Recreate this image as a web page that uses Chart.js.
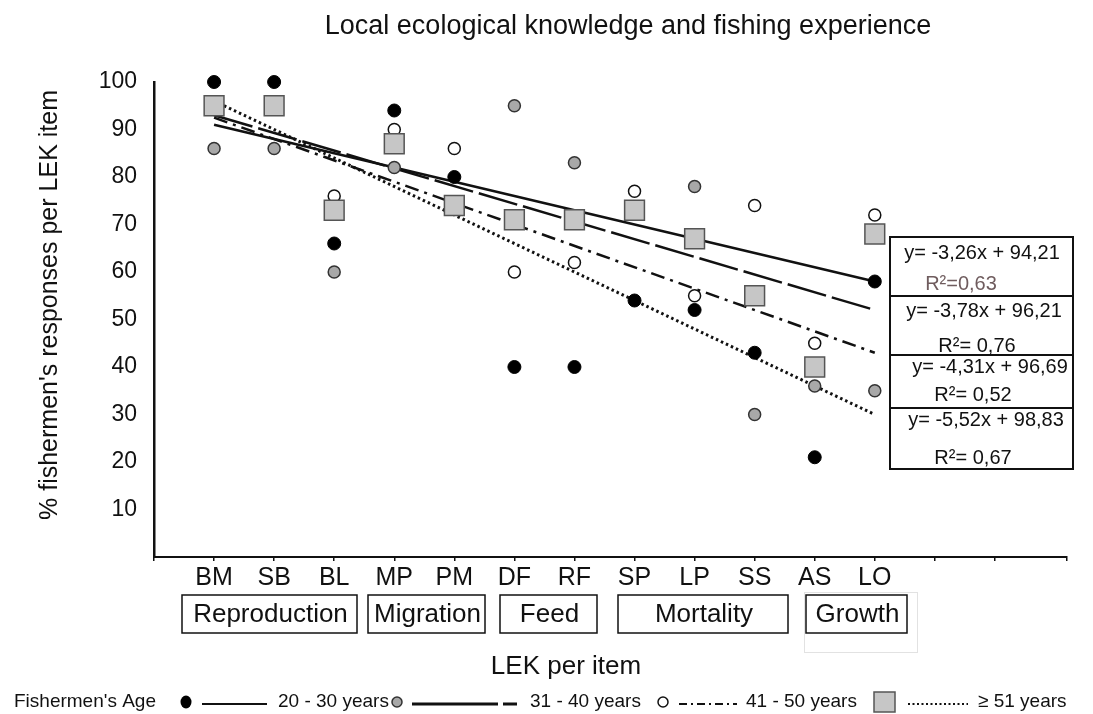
<!DOCTYPE html>
<html>
<head>
<meta charset="utf-8">
<title>Local ecological knowledge and fishing experience</title>
<script src="https://cdn.jsdelivr.net/npm/chart.js@4.4.1/dist/chart.umd.min.js"></script>
<style>
    body { margin: 0; background: #fff; }
    #wrap { width: 1093px; height: 714px; }
</style>
</head>
<body>
<div id="wrap"><canvas id="lekChart" width="1093" height="714"></canvas></div>
<script>
const categories = ['BM', 'SB', 'BL', 'MP', 'PM', 'DF', 'RF', 'SP', 'LP', 'SS', 'AS', 'LO'];
const itemIndex = [1, 2, 3, 4, 5, 6, 7, 8, 9, 10, 11, 12];

const age20to30 = [100, 100, 66, 94, 80, 40, 40, 54, 52, 43, 21, 58];
const age31to40 = [86, 86, 60, 82, 74, 95, 83, 73, 78, 30, 36, 35];
const age41to50 = [95, 95, 76, 90, 86, 60, 62, 77, 55, 74, 45, 72];
const age51plus = [95, 95, 73, 87, 74, 71, 71, 73, 67, 55, 40, 68];

// trend lines, value at first item and at last item
const trendStart = [91, 93, 92.5, 96];
const trendEnd = [58, 52, 43, 30];

const yTicks = [10, 20, 30, 40, 50, 60, 70, 80, 90, 100];
const groupNames = ['Reproduction', 'Migration', 'Feed', 'Mortality', 'Growth'];
const equations = ['y= -3,26x + 94,21', 'y= -3,78x + 96,21', 'y= -4,31x + 96,69', 'y= -5,52x + 98,83'];
const rSquared = ['R\u00B2=0,63', 'R\u00B2= 0,76', 'R\u00B2= 0,52', 'R\u00B2= 0,67'];
const ageLabels = ['20 - 30 years', '31 - 40 years', '41 - 50 years', '\u2265 51 years'];

const FONT = '"Liberation Sans", Arial, Helvetica, sans-serif';
const INK = '#111';

function toPoints(values) {
    return values.map((v, i) => ({ x: itemIndex[i], y: v }));
}
function trendLine(k) {
    return [
        { x: itemIndex[0], y: trendStart[k] },
        { x: itemIndex[itemIndex.length - 1], y: trendEnd[k] }
    ];
}

// Extra drawing: title, axis titles, group boxes, equations, legend ..................
const decorations = {
    id: 'decorations',
    afterDraw(chart) {
        const ctx = chart.ctx;
        ctx.save();
        ctx.fillStyle = INK;
        ctx.textBaseline = 'middle';

        ctx.textAlign = 'center';
        ctx.font = '27px ' + FONT;
        ctx.fillText('Local ecological knowledge and fishing experience', 628, 27);
        ctx.font = '26px ' + FONT;
        ctx.fillText('LEK per item', 566, 667);

        ctx.save();
        ctx.translate(50, 305);
        ctx.rotate(-Math.PI / 2);
        ctx.font = '25px ' + FONT;
        ctx.fillText("% fishermen's responses per LEK item", 0, 0);
        ctx.restore();

        // item groups under the axis
        const boxes = [[182, 357], [368, 485], [500, 597], [618, 788], [806, 907]];
        ctx.strokeStyle = '#e2e2e2';
        ctx.lineWidth = 1;
        ctx.strokeRect(804.5, 592.5, 113, 60);
        ctx.strokeStyle = INK;
        ctx.lineWidth = 1.5;
        ctx.font = '26px ' + FONT;
        boxes.forEach((b, i) => {
            ctx.fillStyle = '#fff';
            ctx.fillRect(b[0], 595, b[1] - b[0], 38);
            ctx.strokeRect(b[0], 595, b[1] - b[0], 38);
            ctx.fillStyle = INK;
            ctx.fillText(groupNames[i], (b[0] + b[1]) / 2 + 1, 615);
        });

        // regression equations
        const rows = [237, 296, 355, 408, 469];
        ctx.lineWidth = 2;
        ctx.fillStyle = '#fff';
        ctx.fillRect(890, 237, 183, 232);
        for (let i = 0; i < 4; i++) {
            ctx.strokeRect(890, rows[i], 183, rows[i + 1] - rows[i]);
        }
        ctx.font = '20px ' + FONT;
        const eqY = [253, 311, 367, 420];
        const eqX = [982, 984, 990, 986];
        const r2Y = [284, 346, 395, 458];
        const r2X = [961, 977, 973, 973];
        for (let i = 0; i < 4; i++) {
            ctx.fillStyle = INK;
            ctx.fillText(equations[i], eqX[i], eqY[i]);
            ctx.fillStyle = i === 0 ? '#6f5c5e' : INK;
            ctx.fillText(rSquared[i], r2X[i], r2Y[i]);
        }

        // legend row
        const ly = 702;
        ctx.font = '19px ' + FONT;
        ctx.textAlign = 'left';
        ctx.fillStyle = INK;
        ctx.fillText("Fishermen's Age", 14, ly);
        ctx.fillText(ageLabels[0], 278, ly);
        ctx.fillText(ageLabels[1], 530, ly);
        ctx.fillText(ageLabels[2], 746, ly);
        ctx.fillText(ageLabels[3], 978, ly);

        ctx.lineWidth = 1.5;
        ctx.beginPath();
        ctx.ellipse(186, ly, 5.5, 6.5, 0, 0, Math.PI * 2);
        ctx.fillStyle = '#000';
        ctx.fill();

        ctx.beginPath();
        ctx.arc(397, ly, 5, 0, Math.PI * 2);
        ctx.fillStyle = '#a8a8a8';
        ctx.fill();
        ctx.strokeStyle = '#333';
        ctx.stroke();

        ctx.beginPath();
        ctx.arc(663, ly, 5, 0, Math.PI * 2);
        ctx.fillStyle = '#fff';
        ctx.fill();
        ctx.strokeStyle = INK;
        ctx.stroke();

        ctx.fillStyle = '#c6c6c6';
        ctx.fillRect(874, ly - 10, 21, 20);
        ctx.strokeStyle = '#555';
        ctx.strokeRect(874, ly - 10, 21, 20);

        const samples = [
            [202, 267, [], 2],
            [412, 517, [86, 5], 3],
            [679, 737, [8, 4, 2, 4], 2],
            [908, 968, [2, 2.5], 2]
        ];
        ctx.strokeStyle = INK;
        samples.forEach(s => {
            ctx.beginPath();
            ctx.setLineDash(s[2]);
            ctx.lineWidth = s[3];
            ctx.moveTo(s[0], ly + 2);
            ctx.lineTo(s[1], ly + 2);
            ctx.stroke();
        });
        ctx.setLineDash([]);
        ctx.restore();
    }
};

// Chart ..............................................................................
const lineStyles = [[], [40, 6], [14, 6, 3, 6], [2.5, 3]];
const lineWidths = [2.5, 2.5, 2.5, 3];
const lineLabels = ['trend 20-30', 'trend 31-40', 'trend 41-50', 'trend 51+'];

const datasets = [
    {
        type: 'scatter', label: ageLabels[3], data: toPoints(age51plus), clip: false,
        pointStyle: 'rect', pointRadius: 14,
        backgroundColor: '#c6c6c6', borderColor: '#555', borderWidth: 1.5
    },
    {
        type: 'scatter', label: ageLabels[0], data: toPoints(age20to30), clip: false,
        pointStyle: 'circle', pointRadius: 6.5,
        backgroundColor: '#000', borderColor: '#000', borderWidth: 1
    },
    {
        type: 'scatter', label: ageLabels[1], data: toPoints(age31to40), clip: false,
        pointStyle: 'circle', pointRadius: 6,
        backgroundColor: '#a8a8a8', borderColor: '#333', borderWidth: 1.5
    },
    {
        type: 'scatter', label: ageLabels[2], data: toPoints(age41to50), clip: false,
        pointStyle: 'circle', pointRadius: 6,
        backgroundColor: '#fff', borderColor: INK, borderWidth: 1.5
    }
];
for (let k = 0; k < 4; k++) {
    datasets.push({
        type: 'line', label: lineLabels[k], data: trendLine(k),
        borderColor: INK, borderWidth: lineWidths[k], borderDash: lineStyles[k],
        pointRadius: 0, fill: false, tension: 0
    });
}

Chart.defaults.font.family = FONT;
Chart.defaults.color = INK;

new Chart(document.getElementById('lekChart').getContext('2d'), {
    type: 'scatter',
    data: { datasets: datasets },
    options: {
        responsive: false,
        animation: false,
        events: [],
        devicePixelRatio: 1,
        layout: { padding: { top: 82, right: 26, bottom: 0, left: 0 } },
        plugins: {
            legend: { display: false },
            tooltip: { enabled: false },
            title: { display: false }
        },
        scales: {
            x: {
                type: 'linear',
                min: 0,
                max: 15.2,
                afterFit: scale => { scale.height = 157; },
                grid: { display: true, drawOnChartArea: false, drawTicks: true, tickLength: 4, color: INK, lineWidth: 1.5 },
                border: { display: true, color: INK, width: 2 },
                ticks: {
                    stepSize: 1,
                    autoSkip: false,
                    maxRotation: 0,
                    padding: 2,
                    color: INK,
                    font: { size: 25 },
                    callback: v => categories[itemIndex.indexOf(v)] || ''
                }
            },
            y: {
                type: 'linear',
                min: 0,
                max: 100,
                afterFit: scale => { scale.width = 154; },
                grid: { display: false, drawTicks: false },
                border: { display: true, color: INK, width: 2.5 },
                ticks: {
                    stepSize: 10,
                    padding: 17,
                    color: INK,
                    font: { size: 23 },
                    callback: v => yTicks.includes(v) ? v : ''
                }
            }
        }
    },
    plugins: [decorations]
});
</script>
</body>
</html>
